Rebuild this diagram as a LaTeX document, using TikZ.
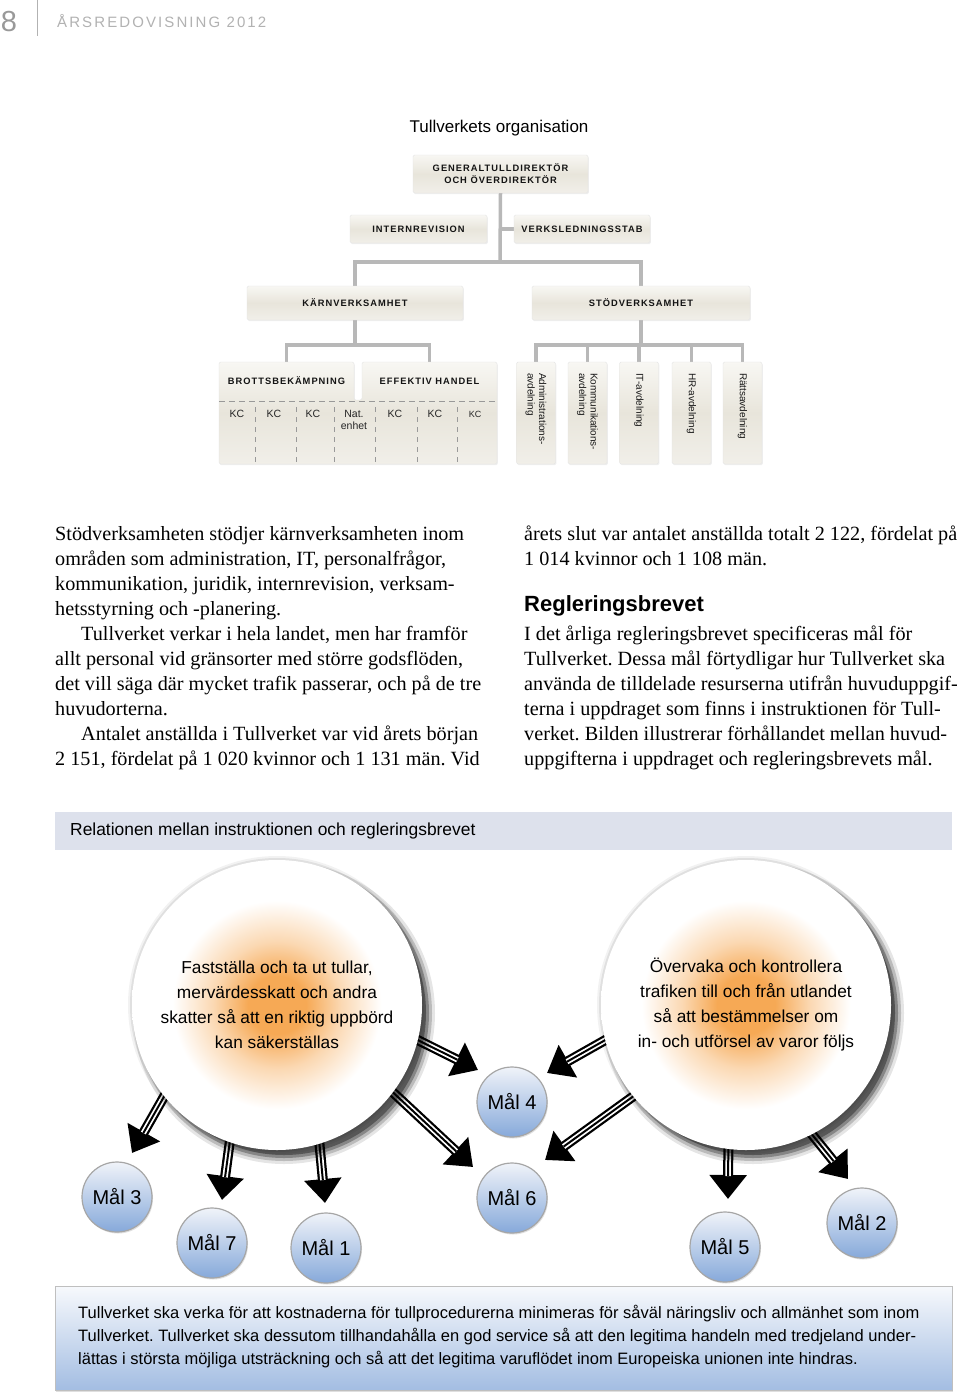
\documentclass[tikz,border=0pt]{standalone}
\usepackage{fontspec}
\setmainfont{Liberation Serif}
\newfontfamily\hs{Liberation Sans}
\newfontfamily\hsls[LetterSpace=11]{Liberation Sans}
\newfontfamily\hdls[LetterSpace=14]{Liberation Sans}
\usetikzlibrary{arrows.meta,calc,shadows}
\pgfdeclarelayer{bg}
\pgfdeclarelayer{paper}
\pgfsetlayers{paper,bg,main}
\frenchspacing
\definecolor{olcol}{HTML}{B8B8B8}
\definecolor{bxtop}{HTML}{F8F7F3}
\definecolor{bxmid}{HTML}{E8E5DB}
\definecolor{bxbot}{HTML}{F1EFE9}
\definecolor{glowc}{HTML}{F6A955}
\colorlet{glowm}{glowc!45!white}
\definecolor{bannerc}{HTML}{DDE1EC}
\definecolor{maltop}{HTML}{F0F3F9}
\definecolor{malbot}{HTML}{86A9DA}
\definecolor{bbtop}{HTML}{F7F9FC}
\definecolor{bbbot}{HTML}{A3BDE2}
\pgfdeclareradialshading{glow}{\pgfpoint{0bp}{0bp}}{color(0bp)=(glowc); color(5bp)=(glowc); color(11bp)=(glowm); color(18bp)=(white); color(50bp)=(white)}
\newcommand\tarrow[2]{%
  \draw[line width=10pt,-{Triangle[length=24pt,width=36pt]}] (#1) -- (#2);
  \draw[white,line width=5.5pt,shorten >=23pt] (#1) -- (#2);
  \draw[black,line width=2pt,shorten >=23pt] (#1) -- (#2);}
\newcommand\bigshadow[1]{%
  \fill[black,opacity=0.05] (#1) circle (149pt);
  \fill[black,opacity=0.07] (#1) circle (147pt);
  \fill[black,opacity=0.10] ($(#1)+(7,8)$) circle (151pt);
  \fill[black,opacity=0.18] ($(#1)+(7,8)$) circle (148pt);
  \fill[black,opacity=0.28] ($(#1)+(7,8)$) circle (145pt);
  \fill[black,opacity=0.35] ($(#1)+(7,8)$) circle (142pt);}
\tikzset{
  orgline/.style={draw=olcol, line width=3.5pt},
  orgfont/.style={font=\hsls\bfseries\fontsize{9.3}{12}\selectfont, text=black!92},
  orgbox/.style={draw=black!10, line width=0.4pt, top color=bxtop, bottom color=bxbot, middle color=bxmid,
     rounded corners=1.5pt, inner sep=0pt, align=center,
     drop shadow={shadow xshift=0.8pt, shadow yshift=-1.2pt, opacity=0.12}, orgfont},
  kclabel/.style={font=\hs\fontsize{10.5}{12}\selectfont, text=black!85, inner sep=0pt, align=center},
  vtext/.style={font=\hs\fontsize{10}{11.5}\selectfont, rotate=-90, anchor=west, align=left, inner sep=0pt, text=black!90},
  bodytext/.style={font=\fontsize{20.2}{25}\selectfont, anchor=base west, align=left, inner sep=0pt},
  bigcircle/.style={circle, minimum size=290pt, shading=glow, inner sep=0pt, align=center, font=\hs\fontsize{17.3}{25}\selectfont},
  mal/.style={circle, minimum size=70pt, draw=black!35, line width=1.2pt, top color=maltop, bottom color=malbot,
     font=\hs\fontsize{20}{22}\selectfont, inner sep=0pt, drop shadow={shadow xshift=1pt, shadow yshift=-1.5pt, opacity=.25}},
}
\begin{document}
\begin{tikzpicture}[x=1pt,y=-1pt]
\useasboundingbox (0,0) rectangle (960,1394);
\begin{pgfonlayer}{paper}
\fill[white] (0,0) rectangle (960,1394);
\end{pgfonlayer}
% header
\node[font=\hs\fontsize{29}{30}\selectfont, text=black!40, inner sep=0pt] (pg) at (9,22) {8};
\coordinate (rt) at (37,0); \coordinate (rb) at (37,36);
\draw[black!30, line width=1pt] (rt) -- (rb);
\node[font=\hdls\fontsize{15}{16}\selectfont, text=black!30, anchor=west, inner sep=0pt] (hd) at (57,21) {ÅRSREDOVISNING 2012};
% title
\node[font=\hs\fontsize{17}{20}\selectfont, inner sep=0pt] (title) at (499,128) {Tullverkets organisation};
% org boxes
\node[orgbox, minimum width=175, minimum height=38] (gd) at (500.5,174) {GENERALTULLDIREKTÖR\\OCH ÖVERDIREKTÖR};
\node[orgbox, minimum width=137, minimum height=28] (ir) at (418.5,229) {INTERNREVISION};
\node[orgbox, minimum width=136, minimum height=28] (vs) at (582,229) {VERKSLEDNINGSSTAB};
\node[orgbox, minimum width=216, minimum height=34] (kv) at (355,303) {KÄRNVERKSAMHET};
\node[orgbox, minimum width=218, minimum height=34] (sv) at (641,303) {STÖDVERKSAMHET};
% combined left box
\path[draw=black!10, line width=.4pt, top color=bxtop, bottom color=bxbot, middle color=bxmid, rounded corners=2pt,
  drop shadow={shadow xshift=0.8pt, shadow yshift=-1.2pt, opacity=0.12}]
  (219,362) -- (354,362) -- (354,400) -- (362,400) -- (362,362) -- (497,362) -- (497,464) -- (219,464) -- cycle;
\node[orgfont, minimum width=135, minimum height=38, inner sep=0pt] (bk) at (286.5,381) {BROTTSBEKÄMPNING};
\node[orgfont, minimum width=135, minimum height=38, inner sep=0pt] (eh) at (429.5,381) {EFFEKTIV HANDEL};
\draw[black!40, line width=1pt, dash pattern=on 6pt off 4pt] (219,401) -- (497,401);
\foreach \x in {255,296,334,375,417,457}
  \draw[black!40, line width=1pt, dash pattern=on 5pt off 5pt] (\x,407) -- (\x,464);
\node[kclabel] (k1) at (237,414) {KC};
\node[kclabel] (k2) at (274,414) {KC};
\node[kclabel] (k3) at (313,414) {KC};
\node[kclabel] (k4) at (354,420) {Nat.\\enhet};
\node[kclabel] (k5) at (395,414) {KC};
\node[kclabel] (k6) at (435,414) {KC};
\node[kclabel, font=\hs\fontsize{9}{10}\selectfont] (k7) at (475,414) {KC};
% vertical boxes
\node[orgbox, minimum width=39, minimum height=102] (a1) at (536,413) {};
\node[orgbox, minimum width=39, minimum height=102] (a2) at (587.5,413) {};
\node[orgbox, minimum width=39, minimum height=102] (a3) at (639,413) {};
\node[orgbox, minimum width=39, minimum height=102] (a4) at (691.5,413) {};
\node[orgbox, minimum width=39, minimum height=102] (a5) at (742.5,413) {};
\node[vtext] (v1) at ($(a1.north)+(0,11)$) {Administrations-\\avdelning};
\node[vtext] (v2) at ($(a2.north)+(0,11)$) {Kommunikations-\\avdelning};
\node[vtext] (v3) at ($(a3.north)+(0,11)$) {IT-avdelning};
\node[vtext] (v4) at ($(a4.north)+(0,11)$) {HR-avdelning};
\node[vtext] (v5) at ($(a5.north)+(0,11)$) {Rättsavdelning};
% connectors
\coordinate (j1) at (500,262);
\coordinate (j2) at (355,345);
\coordinate (j3) at (641,345);
\begin{pgfonlayer}{bg}
\draw[orgline] (gd.south) -- (j1);
\draw[orgline] (vs.west) -- (vs.west -| j1);
\draw[orgline] (kv.north) |- (j1) -| (sv.north);
\draw[orgline] (kv.south) -- (j2);
\draw[orgline] (bk.north) |- (j2) -| (eh.north);
\draw[orgline] (sv.south) -- (j3);
\draw[orgline] (a1.north) |- (j3) -| (a5.north);
\draw[orgline] (a2.north) -- (a2.north |- j3);
\draw[orgline] (a3.north) -- (a3.north |- j3);
\draw[orgline] (a4.north) -- (a4.north |- j3);
\end{pgfonlayer}
% body text (anchor base = baseline of last line)
\node[bodytext] (lcol) at (55,765) {Stödverksamheten stödjer kärnverksamheten inom\\
områden som administration, IT, personalfrågor,\\
kommunikation, juridik, internrevision, verksam-\\
hetsstyrning och -planering.\\
\hspace*{26pt}Tullverket verkar i hela landet, men har framför\\
allt personal vid gränsorter med större godsflöden,\\
det vill säga där mycket trafik passerar, och på de tre\\
huvudorterna.\\
\hspace*{26pt}Antalet anställda i Tullverket var vid årets början\\
2 151, fördelat på 1 020 kvinnor och 1 131 män. Vid};
\node[bodytext] (rcol1) at (524,565) {årets slut var antalet anställda totalt 2 122, fördelat på\\
1 014 kvinnor och 1 108 män.};
\node[font=\hs\bfseries\fontsize{22}{25}\selectfont, anchor=base west, inner sep=0pt] (rhead) at (524,611) {Regleringsbrevet};
\node[bodytext] (rcol2) at (524,765) {I det årliga regleringsbrevet specificeras mål för\\
Tullverket. Dessa mål förtydligar hur Tullverket ska\\
använda de tilldelade resurserna utifrån huvuduppgif-\\
terna i uppdraget som finns i instruktionen för Tull-\\
verket. Bilden illustrerar förhållandet mellan huvud-\\
uppgifterna i uppdraget och regleringsbrevets mål.};
% banner
\node[fill=bannerc, minimum width=897, minimum height=38, inner sep=0pt] (ban) at (503.5,831) {};
\node[anchor=west, font=\hs\fontsize{17.4}{20}\selectfont, inner sep=0pt] (bant) at (70,831) {Relationen mellan instruktionen och regleringsbrevet};
% big circles
\coordinate (lcc) at (277,1005);
\coordinate (rcc) at (746,1005);
\bigshadow{lcc}
\bigshadow{rcc}
\node[bigcircle] (lc) at (lcc) {Fastställa och ta ut tullar,\\mervärdesskatt och andra\\skatter så att en riktig uppbörd\\kan säkerställas};
\node[bigcircle] (rc) at (rcc) {Övervaka och kontrollera\\trafiken till och från utlandet\\så att bestämmelser om\\in- och utförsel av varor följs};
% goal nodes
\node[mal] (m3) at (117,1197) {Mål 3};
\node[mal] (m7) at (212,1243) {Mål 7};
\node[mal] (m1) at (326,1248) {Mål 1};
\node[mal] (m4) at (512,1102) {Mål 4};
\node[mal] (m6) at (512,1198) {Mål 6};
\node[mal] (m5) at (725,1247) {Mål 5};
\node[mal] (m2) at (862,1223) {Mål 2};
% arrow tips
\coordinate (t3) at (132,1153);
\coordinate (t7) at (222,1200);
\coordinate (t1) at (325,1203);
\coordinate (t6l) at (473,1167);
\coordinate (t4l) at (478,1070);
\coordinate (t4r) at (547,1073);
\coordinate (t6r) at (545,1160);
\coordinate (t5) at (728,1199);
\coordinate (t2) at (848,1179);
\coordinate (s3) at ($(lc.219.2)!-12pt!(t3)$);
\coordinate (s7) at ($(lc.251.4)!-12pt!(t7)$);
\coordinate (s1) at ($(lc.287.8)!-12pt!(t1)$);
\coordinate (s6l) at ($(lc.323.7)!-12pt!(t6l)$);
\coordinate (s4l) at ($(lc.346.2)!-12pt!(t4l)$);
\coordinate (s4r) at ($(rc.194.2)!-12pt!(t4r)$);
\coordinate (s6r) at ($(rc.219.2)!-12pt!(t6r)$);
\coordinate (s5) at ($(rc.263.2)!-12pt!(t5)$);
\coordinate (s2) at ($(rc.297.3)!-12pt!(t2)$);
\begin{pgfonlayer}{bg}
\tarrow{s3}{t3}
\tarrow{s7}{t7}
\tarrow{s1}{t1}
\tarrow{s6l}{t6l}
\tarrow{s4l}{t4l}
\tarrow{s4r}{t4r}
\tarrow{s6r}{t6r}
\tarrow{s5}{t5}
\tarrow{s2}{t2}
\end{pgfonlayer}
% bottom box
\node[draw=black!25, line width=.6pt, top color=bbtop, bottom color=bbbot, minimum width=897, minimum height=104, inner sep=0pt,
  drop shadow={opacity=.25, shadow xshift=1pt, shadow yshift=-1.5pt}] (bb) at (503.5,1338) {};
\node[anchor=west, align=left, font=\hs\fontsize{16.5}{23}\selectfont, inner sep=0pt] (bt) at (78,1337) {Tullverket ska verka för att kostnaderna för tullprocedurerna minimeras för såväl näringsliv och allmänhet som inom\\
Tullverket. Tullverket ska dessutom tillhandahålla en god service så att den legitima handeln med tredjeland under-\\
lättas i största möjliga utsträckning och så att det legitima varuflödet inom Europeiska unionen inte hindras.};
\end{tikzpicture}
\end{document}
